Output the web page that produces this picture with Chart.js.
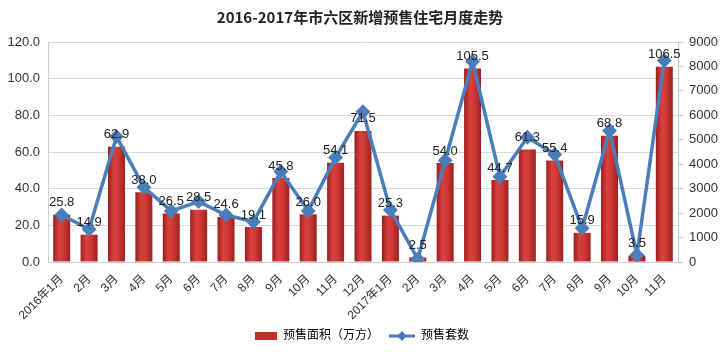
<!DOCTYPE html>
<html lang="zh">
<head>
    <meta charset="UTF-8">
    <title>2016-2017年市六区新增预售住宅月度走势</title>
    <script src="https://cdn.jsdelivr.net/npm/chart.js"></script>
    <style>
        body {
            margin: 0;
            padding: 0;
            background: #ffffff;
        }

        .chart-box {
            width: 720px;
            height: 352px;
        }
    </style>
</head>
<body>
    <div class="chart-box">
        <canvas id="salesChart"></canvas>
    </div>

    <script>
        // months
        const months = ['2016年1月', '2月', '3月', '4月', '5月', '6月', '7月', '8月', '9月', '10月', '11月', '12月',
            '2017年1月', '2月', '3月', '4月', '5月', '6月', '7月', '8月', '9月', '10月', '11月'];

        // 预售面积 (万方), left axis
        const presaleArea = [25.8, 14.9, 62.9, 38.0, 26.5, 28.5, 24.6, 19.1, 45.8, 26.0, 54.1, 71.5,
            25.3, 2.5, 54.0, 105.5, 44.7, 61.3, 55.4, 15.9, 68.8, 3.5, 106.5];

        // 预售套数, right axis
        const presaleUnits = [1920, 1340, 5130, 3060, 2090, 2470, 1920, 1650, 3700, 2090, 4280, 6150,
            2130, 120, 4150, 8200, 3490, 5100, 4400, 1380, 5370, 290, 8240];

        const areaTicks = [0, 20, 40, 60, 80, 100, 120];
        const unitTicks = [0, 1000, 2000, 3000, 4000, 5000, 6000, 7000, 8000, 9000];

        const fontFamily = '"Liberation Sans", "Noto Sans CJK SC", sans-serif';
        const lineBlue = '#4a7ebb';

        // red bars with a light middle, like the original
        function barFill(context) {
            const chart = context.chart;
            const xScale = chart.scales.x;
            if (!chart.chartArea || !xScale || context.dataIndex === undefined) {
                return '#c0302c';
            }
            const cx = xScale.getPixelForValue(context.dataIndex);
            const half = (chart.chartArea.width / months.length) * 0.62 / 2;
            const g = chart.ctx.createLinearGradient(cx - half, 0, cx + half, 0);
            g.addColorStop(0, '#9c1d1d');
            g.addColorStop(0.35, '#d8413d');
            g.addColorStop(0.6, '#cf3934');
            g.addColorStop(1, '#a01f1f');
            return g;
        }

        // small legend icons
        function makeBarIcon() {
            const c = document.createElement('canvas');
            c.width = 26;
            c.height = 8;
            const x = c.getContext('2d');
            x.fillStyle = '#c0302c';
            x.fillRect(4, 0, 22, 8);
            return c;
        }

        function makeLineIcon() {
            const c = document.createElement('canvas');
            c.width = 26;
            c.height = 12;
            const x = c.getContext('2d');
            x.strokeStyle = lineBlue;
            x.lineWidth = 3;
            x.beginPath();
            x.moveTo(0, 6);
            x.lineTo(26, 6);
            x.stroke();
            x.fillStyle = lineBlue;
            x.beginPath();
            x.moveTo(13, 1);
            x.lineTo(18, 6);
            x.lineTo(13, 11);
            x.lineTo(8, 6);
            x.closePath();
            x.fill();
            return c;
        }

        // value labels above the bars
        const barLabels = {
            id: 'barLabels',
            afterDatasetsDraw(chart) {
                const ctx = chart.ctx;
                const meta = chart.getDatasetMeta(0);
                ctx.save();
                ctx.font = '13px ' + fontFamily;
                ctx.fillStyle = '#222222';
                ctx.textAlign = 'center';
                ctx.textBaseline = 'middle';
                meta.data.forEach((bar, i) => {
                    ctx.fillText(presaleArea[i].toFixed(1), bar.x, bar.y - 12);
                });
                ctx.restore();
            }
        };

        const salesChart = new Chart(document.getElementById('salesChart').getContext('2d'), {
            type: 'bar',
            data: {
                labels: months,
                datasets: [{
                    type: 'bar',
                    label: '预售面积（万方）',
                    data: presaleArea,
                    yAxisID: 'y',
                    backgroundColor: barFill,
                    categoryPercentage: 0.62,
                    barPercentage: 1,
                    order: 2
                }, {
                    type: 'line',
                    label: '预售套数',
                    data: presaleUnits,
                    yAxisID: 'y1',
                    borderColor: lineBlue,
                    backgroundColor: lineBlue,
                    borderWidth: 3.5,
                    pointStyle: 'rectRot',
                    pointRadius: 5,
                    pointBackgroundColor: lineBlue,
                    pointBorderColor: lineBlue,
                    tension: 0,
                    order: 1
                }]
            },
            options: {
                responsive: true,
                maintainAspectRatio: false,
                animation: false,
                layout: {
                    padding: { left: 0, right: 0, top: 0, bottom: 0 }
                },
                plugins: {
                    title: {
                        display: true,
                        text: '2016-2017年市六区新增预售住宅月度走势',
                        color: '#222222',
                        font: { family: '"Noto Sans CJK SC", sans-serif', size: 15, weight: 'bold' },
                        padding: { top: 8, bottom: 16 }
                    },
                    legend: {
                        position: 'bottom',
                        labels: {
                            color: '#333333',
                            font: { family: fontFamily, size: 12 },
                            usePointStyle: true,
                            pointStyleWidth: 26,
                            padding: 10,
                            generateLabels(chart) {
                                return [{
                                    text: '预售面积（万方）',
                                    pointStyle: makeBarIcon(),
                                    fillStyle: '#c0302c',
                                    strokeStyle: '#c0302c',
                                    lineWidth: 0,
                                    hidden: false,
                                    datasetIndex: 0
                                }, {
                                    text: '预售套数',
                                    pointStyle: makeLineIcon(),
                                    fillStyle: lineBlue,
                                    strokeStyle: lineBlue,
                                    lineWidth: 0,
                                    hidden: false,
                                    datasetIndex: 1
                                }];
                            }
                        }
                    },
                    tooltip: { enabled: false }
                },
                scales: {
                    x: {
                        grid: { display: false },
                        border: { display: true, color: '#d0d0d0' },
                        ticks: {
                            color: '#333333',
                            font: { family: fontFamily, size: 12 },
                            minRotation: 45,
                            maxRotation: 45,
                            autoSkip: false,
                            padding: 2
                        },
                        afterFit(scale) {
                            scale.height = 58;
                        }
                    },
                    y: {
                        position: 'left',
                        min: areaTicks[0],
                        max: areaTicks[areaTicks.length - 1],
                        afterBuildTicks(scale) {
                            scale.ticks = areaTicks.map(v => ({ value: v }));
                        },
                        grid: { color: '#d9d9d9', drawTicks: false },
                        border: { display: true, color: '#d0d0d0' },
                        ticks: {
                            color: '#333333',
                            font: { family: fontFamily, size: 13 },
                            padding: 8,
                            callback: v => Number(v).toFixed(1)
                        },
                        afterFit(scale) {
                            scale.width = 48;
                        }
                    },
                    y1: {
                        position: 'right',
                        min: unitTicks[0],
                        max: unitTicks[unitTicks.length - 1],
                        afterBuildTicks(scale) {
                            scale.ticks = unitTicks.map(v => ({ value: v }));
                        },
                        grid: { drawOnChartArea: false, drawTicks: true, tickLength: 5, color: '#c8c8c8' },
                        border: { display: true, color: '#c8c8c8' },
                        ticks: {
                            color: '#333333',
                            font: { family: fontFamily, size: 13 },
                            padding: 6,
                            callback: v => String(v)
                        },
                        afterFit(scale) {
                            scale.width = 42;
                        }
                    }
                }
            },
            plugins: [barLabels]
        });
    </script>
</body>
</html>
